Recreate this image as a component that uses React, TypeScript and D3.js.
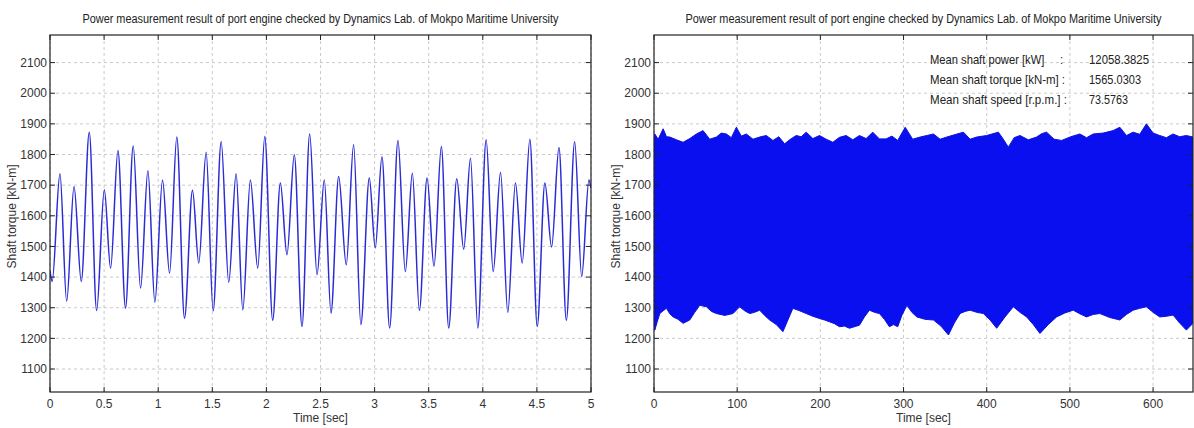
import React from "react";
import * as d3 from "d3";

const TITLE = "Power measurement result of port engine checked by Dynamics Lab. of Mokpo Maritime University";
const Y_LABEL = "Shaft torque [kN-m]";
const X_LABEL = "Time [sec]";

const yTicks = [1100, 1200, 1300, 1400, 1500, 1600, 1700, 1800, 1900, 2000, 2100];
const leftXTicks = [0, 0.5, 1, 1.5, 2, 2.5, 3, 3.5, 4, 4.5, 5];
const rightXTicks = [0, 100, 200, 300, 400, 500, 600];

// Left: extrema of the 5 s torque waveform (time [s], torque [kN-m])
const leftT = [0, 0.02, 0.092, 0.154, 0.222, 0.289, 0.363, 0.431, 0.502, 0.56, 0.628, 0.698, 0.769, 0.837, 0.905, 0.969, 1.04, 1.105, 1.172, 1.243, 1.317, 1.375, 1.443, 1.508, 1.582, 1.652, 1.72, 1.782, 1.852, 1.92, 1.985, 2.058, 2.129, 2.19, 2.258, 2.329, 2.4, 2.468, 2.535, 2.597, 2.668, 2.738, 2.806, 2.873, 2.951, 3.006, 3.068, 3.139, 3.216, 3.284, 3.349, 3.414, 3.485, 3.549, 3.617, 3.685, 3.759, 3.824, 3.886, 3.954, 4.031, 4.096, 4.164, 4.231, 4.302, 4.364, 4.435, 4.503, 4.574, 4.636, 4.704, 4.772, 4.849, 4.914, 4.981, 5.0];
const leftV = [1420, 1386, 1737, 1321, 1696, 1386, 1873, 1291, 1685, 1429, 1813, 1299, 1828, 1364, 1747, 1318, 1717, 1413, 1857, 1266, 1683, 1446, 1807, 1290, 1842, 1383, 1737, 1293, 1717, 1429, 1859, 1259, 1707, 1473, 1799, 1239, 1867, 1408, 1717, 1283, 1728, 1440, 1832, 1245, 1723, 1495, 1793, 1234, 1846, 1418, 1739, 1291, 1723, 1435, 1826, 1234, 1721, 1491, 1788, 1234, 1848, 1418, 1741, 1285, 1707, 1446, 1850, 1239, 1707, 1498, 1823, 1259, 1842, 1402, 1717, 1690];

// Right: upper / lower envelope of the long record (time [s], torque [kN-m])
const upperT = [0, 1, 5, 11, 15, 19, 27, 35, 43, 51, 59, 67, 75, 81, 87, 93, 99, 105, 111, 119, 127, 135, 143, 150, 157, 164, 171, 177, 183, 191, 199, 207, 215, 223, 231, 239, 247, 255, 263, 271, 279, 286, 293, 302, 311, 320, 328, 336, 344, 352, 362, 372, 380, 388, 400, 414, 420, 426, 433, 440, 450, 460, 466, 472, 481, 490, 501, 512, 520, 528, 540, 552, 560, 568, 576, 584, 592, 600, 608, 616, 624, 632, 640, 648];
const upperV = [1860, 1867, 1850, 1884, 1858, 1857, 1848, 1840, 1852, 1867, 1878, 1850, 1857, 1870, 1867, 1855, 1889, 1860, 1867, 1850, 1857, 1862, 1846, 1858, 1835, 1850, 1862, 1858, 1873, 1852, 1862, 1850, 1840, 1856, 1862, 1848, 1862, 1852, 1873, 1851, 1851, 1860, 1846, 1889, 1850, 1857, 1862, 1867, 1850, 1857, 1865, 1873, 1850, 1857, 1862, 1873, 1850, 1824, 1855, 1862, 1848, 1857, 1868, 1873, 1850, 1846, 1858, 1867, 1855, 1867, 1870, 1878, 1889, 1862, 1873, 1866, 1900, 1870, 1862, 1855, 1867, 1858, 1862, 1857];
const lowerT = [0, 1, 4, 7, 11, 15, 19, 23, 29, 35, 43, 49, 55, 63, 69, 75, 85, 95, 103, 109, 115, 121, 127, 133, 139, 147, 155, 161, 167, 175, 183, 191, 199, 205, 211, 217, 223, 229, 235, 241, 247, 253, 259, 265, 271, 277, 283, 288, 293, 298, 304, 310, 316, 326, 336, 345, 354, 361, 368, 374, 380, 388, 396, 404, 412, 422, 432, 440, 448, 456, 464, 474, 484, 494, 504, 512, 520, 528, 536, 548, 560, 568, 576, 584, 592, 600, 608, 616, 624, 632, 640, 648];
const lowerV = [1240, 1227, 1255, 1281, 1290, 1298, 1280, 1270, 1262, 1249, 1260, 1285, 1308, 1303, 1288, 1281, 1275, 1281, 1303, 1290, 1281, 1285, 1292, 1275, 1260, 1245, 1222, 1260, 1298, 1290, 1281, 1272, 1265, 1260, 1254, 1248, 1238, 1240, 1233, 1238, 1243, 1270, 1292, 1285, 1281, 1262, 1238, 1245, 1238, 1275, 1308, 1285, 1270, 1262, 1260, 1240, 1211, 1250, 1281, 1288, 1292, 1285, 1281, 1260, 1233, 1270, 1303, 1285, 1270, 1245, 1216, 1245, 1270, 1283, 1292, 1280, 1270, 1278, 1281, 1268, 1260, 1278, 1292, 1298, 1303, 1285, 1270, 1272, 1276, 1250, 1227, 1249];

const infoLabels = ["Mean shaft power [kW]     :", "Mean shaft torque [kN-m] :", "Mean shaft speed [r.p.m.] :"];
const infoValues = ["12058.3825", "1565.0303", "73.5763"];

const W = 1194;
const H = 428;
const TOP = 35;
const BOTTOM = 392;
const Y_DOMAIN: [number, number] = [1025, 2190];
const FONT = "Arial, 'Liberation Sans', Helvetica, sans-serif";

type Sc = d3.ScaleLinear<number, number>;
type PanelProps = {
  x0: number;
  x1: number;
  xDomain: [number, number];
  xTicks: number[];
  id: string;
  children: (x: Sc, y: Sc) => React.ReactNode;
  overlay?: (x: Sc, y: Sc) => React.ReactNode;
};

function Panel({ x0, x1, xDomain, xTicks, id, children, overlay }: PanelProps) {
  const x = d3.scaleLinear().domain(xDomain).range([x0, x1]);
  const y = d3.scaleLinear().domain(Y_DOMAIN).range([BOTTOM, TOP]);
  const cx = (x0 + x1) / 2;
  const tick = 5;
  return (
    <g>
      <text x={cx} y={23} textAnchor="middle" fontSize={12} fill="#222" fontFamily={FONT}
        textLength={476} lengthAdjust="spacingAndGlyphs">{TITLE}</text>
      <rect x={x0} y={TOP} width={x1 - x0} height={BOTTOM - TOP} fill="#fff" />
      {yTicks.map((v) => (
        <line key={"gy" + v} x1={x0} x2={x1} y1={y(v)} y2={y(v)} stroke="#bdbdbd" strokeWidth={0.8} strokeDasharray="3,3" />
      ))}
      {xTicks.map((v) => (
        <line key={"gx" + v} x1={x(v)} x2={x(v)} y1={TOP} y2={BOTTOM} stroke="#bdbdbd" strokeWidth={0.8} strokeDasharray="3,3" />
      ))}
      <clipPath id={id}>
        <rect x={x0} y={TOP} width={x1 - x0} height={BOTTOM - TOP} />
      </clipPath>
      <g clipPath={`url(#${id})`}>{children(x, y)}</g>
      {overlay ? overlay(x, y) : null}
      {yTicks.map((v) => (
        <g key={"ty" + v}>
          <line x1={x0} x2={x0 + tick} y1={y(v)} y2={y(v)} stroke="#222" strokeWidth={1} />
          <line x1={x1} x2={x1 - tick} y1={y(v)} y2={y(v)} stroke="#222" strokeWidth={1} />
          <text x={x0 - 3} y={y(v)} dy="0.35em" textAnchor="end" fontSize={12} fill="#333" fontFamily={FONT}>{v}</text>
        </g>
      ))}
      {xTicks.map((v) => (
        <g key={"tx" + v}>
          <line x1={x(v)} x2={x(v)} y1={BOTTOM} y2={BOTTOM - tick} stroke="#222" strokeWidth={1} />
          <line x1={x(v)} x2={x(v)} y1={TOP} y2={TOP + tick} stroke="#222" strokeWidth={1} />
          <text x={x(v)} y={BOTTOM + 16} textAnchor="middle" fontSize={12} fill="#333" fontFamily={FONT}>{v}</text>
        </g>
      ))}
      <rect x={x0} y={TOP} width={x1 - x0} height={BOTTOM - TOP} fill="none" stroke="#222" strokeWidth={1.2} />
      <text x={cx} y={BOTTOM + 30} textAnchor="middle" fontSize={12} fill="#333" fontFamily={FONT}>{X_LABEL}</text>
      <text transform={`translate(${x0 - 34},${(TOP + BOTTOM) / 2 + 3}) rotate(-90)`} textAnchor="middle" fontSize={12} fill="#333" fontFamily={FONT}>{Y_LABEL}</text>
    </g>
  );
}

export default function App() {
  const leftPts: [number, number][] = leftT.map((t, i) => [t, leftV[i]]);
  const labelW = [133, 135, 137];
  const valueW = [60, 52, 39];
  return (
    <svg width={W} height={H} style={{ position: "absolute", left: 0, top: 0, background: "#fff" }}>
      <rect x={0} y={0} width={W} height={H} fill="#fff" />
      <Panel x0={50} x1={591} xDomain={[0, 5]} xTicks={leftXTicks} id="clipL">
        {(x, y) => {
          const line = d3.line<[number, number]>().x((d) => x(d[0])).y((d) => y(d[1])).curve(d3.curveMonotoneX);
          return <path d={line(leftPts) || ""} fill="none" stroke="#2b2bd6" strokeWidth={1.5} />;
        }}
      </Panel>
      <Panel x0={654} x1={1193} xDomain={[0, 648]} xTicks={rightXTicks} id="clipR"
        overlay={() => (
          <g fontFamily={FONT} fontSize={13} fill="#222">
            {infoLabels.map((l, i) => (
              <g key={l}>
                <text x={930} y={64 + i * 20} textLength={labelW[i]} lengthAdjust="spacingAndGlyphs" style={{ whiteSpace: "pre" }}>{l}</text>
                <text x={1089} y={64 + i * 20} textLength={valueW[i]} lengthAdjust="spacingAndGlyphs">{infoValues[i]}</text>
              </g>
            ))}
          </g>
        )}>
        {(x, y) => {
          const pts: [number, number][] = [
            ...upperT.map((t, i) => [x(t), y(upperV[i])] as [number, number]),
            ...lowerT.map((t, i) => [x(t), y(lowerV[i])] as [number, number]).reverse(),
          ];
          const poly = d3.line<[number, number]>().curve(d3.curveLinearClosed)(pts) || "";
          return <path d={poly} fill="#0a0ff0" stroke="#0c12d8" strokeWidth={1} />;
        }}
      </Panel>
    </svg>
  );
}
